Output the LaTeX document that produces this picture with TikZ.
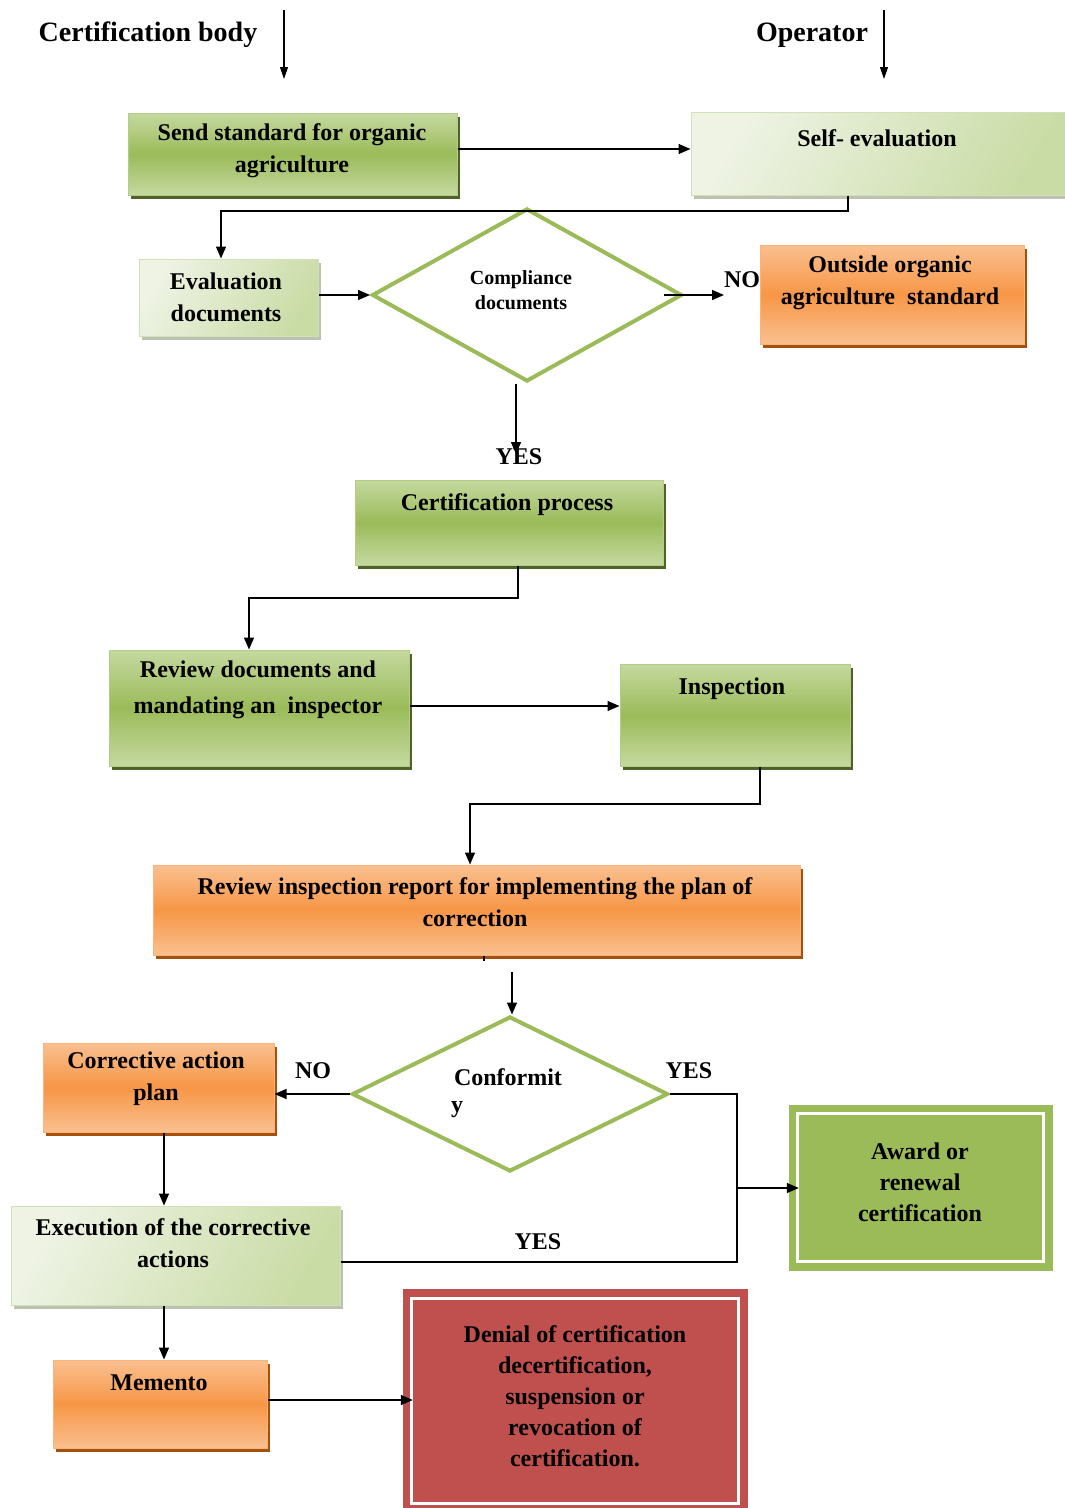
\documentclass[tikz,border=0pt]{standalone}
\usepackage{fontspec}
\setmainfont{Liberation Serif}
\usetikzlibrary{shapes.geometric,arrows.meta,shadows}
\definecolor{gmid}{HTML}{9BBB59}
\definecolor{glight}{HTML}{C5D9A0}
\definecolor{gborder}{HTML}{B3CD85}
\definecolor{gshadow}{HTML}{4F6228}
\definecolor{omid}{HTML}{F79646}
\definecolor{olight}{HTML}{FAC090}
\definecolor{oborder}{HTML}{F9B47A}
\definecolor{oshadow}{HTML}{A5500C}
\definecolor{pale1}{HTML}{EEF3E4}
\definecolor{pale2}{HTML}{CADCA6}
\definecolor{pshadow}{HTML}{BCC2B0}
\definecolor{redbox}{HTML}{C0504D}
\begin{document}
\begin{tikzpicture}[x=1pt,y=-1pt,
  every node/.style={font=\fontsize{24}{32}\selectfont\bfseries, align=center, inner sep=0pt},
  gbox/.style={rectangle, draw=gborder, line width=1pt, top color=glight, bottom color=glight, middle color=gmid,
    general shadow={fill=gshadow, shadow xshift=3pt, shadow yshift=-3.5pt}},
  pbox/.style={rectangle, draw=gborder!60, line width=1pt, left color=pale1, right color=pale2, shading angle=60,
    general shadow={fill=pshadow, shadow xshift=3pt, shadow yshift=-3.5pt}},
  obox/.style={rectangle, draw=oborder, line width=1pt, top color=olight, bottom color=olight, middle color=omid,
    general shadow={fill=oshadow, shadow xshift=3pt, shadow yshift=-3.5pt}},
  dec/.style={diamond, draw=gmid, line width=4pt, fill=white, inner sep=0pt},
  ln/.style={line width=1.4pt},
  arr/.style={line width=1.4pt, -{Triangle[length=12pt,width=10pt]}},
  tarr/.style={line width=1.1pt, -{Triangle[length=12pt,width=8pt]}},
  lbl/.style={font=\fontsize{24}{28}\selectfont\bfseries}
]
\useasboundingbox (0,0) rectangle (1065,1508);

% titles
\node[font=\fontsize{28}{30}\selectfont\bfseries] (cb) at (148,35) {Certification body};
\node[font=\fontsize{28}{30}\selectfont\bfseries] (op) at (812,35) {Operator};
\coordinate (cba) at (284,10); \coordinate (cbb) at (284,79);
\coordinate (opa) at (884,10); \coordinate (opb) at (884,79);
\draw[tarr] (cba) -- (cbb);
\draw[tarr] (opa) -- (opb);

% boxes
\node[gbox, minimum width=329pt, minimum height=82pt] (send) at (292.5,154) {};
\node (sendt) at (292,151) {Send standard for organic\\agriculture};

\node[pbox, minimum width=380pt, minimum height=83pt] (self) at (881,153.5) {};
\node (selft) at (877,138) {Self- evaluation};

\node[pbox, minimum width=179pt, minimum height=77pt] (evald) at (228.5,297.5) {};
\node (evaldt) at (226,297) {Evaluation\\documents};

\node[dec, minimum width=310pt, minimum height=173pt] (comp) at (527,295) {};
\node[font=\fontsize{20}{25}\selectfont\bfseries] (compt) at (521,290) {Compliance\\documents};

\node[obox, minimum width=264pt, minimum height=99pt] (outs) at (892,294.5) {};
\node (outst) at (890,283) {Outside organic\\agriculture\ \ standard};

\node[gbox, minimum width=308pt, minimum height=85pt] (cert) at (509,522.5) {};
\node (certt) at (507,505) {Certification process};

\node[gbox, minimum width=300pt, minimum height=116pt] (revd) at (259,708) {};
\node[font=\fontsize{24}{36}\selectfont\bfseries] (revdt) at (258,690) {Review documents and\\mandating an\ \ inspector};

\node[gbox, minimum width=230pt, minimum height=102pt] (insp) at (735,715) {};
\node (inspt) at (732,689) {Inspection};

\node[obox, minimum width=647pt, minimum height=90pt] (report) at (476.5,910) {};
\node (reportt) at (475,902) {Review inspection report for implementing the plan of\\correction};

\node[dec, minimum width=316pt, minimum height=155pt] (conf) at (510,1094) {};
\node (conft) at (508,1077) {Conformit};
\node (confy) at (457,1110) {y};

\node[obox, minimum width=231pt, minimum height=89pt] (corr) at (158.5,1087.5) {};
\node (corrt) at (156,1079) {Corrective action\\plan};

\node[pbox, minimum width=329pt, minimum height=99pt] (exec) at (175.5,1255.5) {};
\node (exect) at (173,1243) {Execution of the corrective\\actions};

\node[rectangle, fill=gmid, draw=gmid, minimum width=263pt, minimum height=165pt] (award) at (920.5,1187.5) {};
\draw[white, line width=3pt] ([shift={(9,9)}]award.north west) rectangle ([shift={(-9,-9)}]award.south east);
\node[font=\fontsize{24}{31}\selectfont\bfseries] (awardt) at (920,1182) {Award or\\renewal\\certification};

\node[obox, minimum width=214pt, minimum height=88pt] (memo) at (160,1404) {};
\node (memot) at (159,1383) {Memento};

\node[rectangle, fill=redbox, draw=redbox, minimum width=344pt, minimum height=223pt] (denial) at (575,1400.5) {};
\draw[white, line width=3pt] ([shift={(9,10)}]denial.north west) rectangle ([shift={(-9,-9)}]denial.south east);
\node[font=\fontsize{24}{31}\selectfont\bfseries] (denialt) at (575,1396) {Denial of certification\\decertification,\\suspension or\\revocation of\\certification.};

% labels
\node[lbl] (no1) at (742,280) {NO};
\node[lbl] (yes1) at (519,457) {YES};
\node[lbl] (no2) at (313,1071) {NO};
\node[lbl] (yes2) at (689,1071) {YES};
\node[lbl] (yes3) at (538,1242) {YES};

% connectors
\draw[arr] (send.east |- 0,149) -- (self.west |- 0,149);
\draw[arr] (self.south -| 848,0) |- (221,211) -- (evald.north -| 221,0);
\draw[arr] (evald.east |- comp.west) -- (comp.west);
\coordinate (noend) at ([xshift=40pt]comp.east);
\draw[arr] ([xshift=-20pt]comp.east) -- (noend);
\coordinate (yesend) at (516,454);
\draw[arr] (comp.south -| 516,0) -- (yesend);
\draw[arr] (cert.south -| 518,0) |- (249,598) -- (revd.north -| 249,0);
\draw[arr] (revd.east |- 0,706) -- (insp.west |- 0,706);
\draw[arr] (insp.south -| 760,0) |- (470,804) -- (report.north -| 470,0);
\coordinate (stub) at (484,961);
\draw[ln] (report.south -| 484,0) -- (stub);
\coordinate (cstart) at (512,972);
\draw[arr] (cstart) -- (conf.north -| 512,0);
\draw[arr] (conf.west) -- (corr.east |- conf.west);
\coordinate (jr) at (conf.east -| 737,0);
\coordinate (jb) at (737,1262);
\coordinate (jm) at (737,1188);
\draw[ln] (conf.east) -- (jr) -- (jb) -- (exec.east |- jb);
\draw[arr] (jm) -- ([xshift=10pt]award.west |- jm);
\draw[arr] (corr.south -| 164,0) -- (exec.north -| 164,0);
\draw[arr] (exec.south -| 164,0) -- (memo.north -| 164,0);
\draw[arr] (memo.east |- 0,1400) -- ([xshift=10pt]denial.west |- 0,1400);
\end{tikzpicture}
\end{document}
